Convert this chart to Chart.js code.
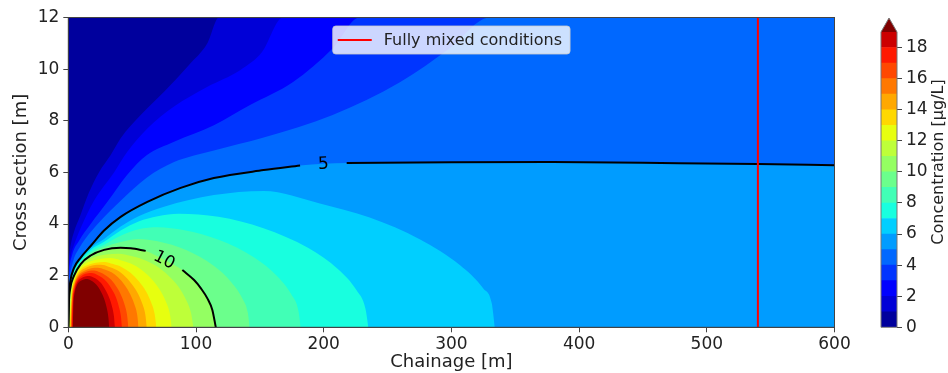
<!DOCTYPE html>
<html>
<head>
<meta charset="utf-8">
<script src="https://cdn.jsdelivr.net/npm/chart.js@4.4.0/dist/chart.umd.min.js"></script>
<style>
  html, body { margin: 0; padding: 0; background: #fff; }
  #wrap { position: relative; width: 948px; height: 373px; }
  #main { position: absolute; left: 0; top: 0; }
  #cbar { position: absolute; left: 870px; top: 0; }
</style>
</head>
<body>
<div id="wrap">
  <canvas id="main" width="860" height="373"></canvas>
  <canvas id="cbar" width="78" height="373"></canvas>
</div>
<script>
// axis limits and tick labels
const xLimits = [0, 600];
const yLimits = [0, 12];
const xTickValues = [0, 100, 200, 300, 400, 500, 600];
const yTickValues = [0, 2, 4, 6, 8, 10, 12];
const cbTickValues = [0, 2, 4, 6, 8, 10, 12, 14, 16, 18];
const levels = [0, 1, 2, 3, 4, 5, 6, 7, 8, 9, 10, 11, 12, 13, 14, 15, 16, 17, 18, 19];

// contour boundaries [chainage, cross section], region >= level lies below the curve
const level1 = [[0,0],[0.05,2.0],[0.4,2.7],[1.9,3.2],[4.5,3.7],[9.2,4.3],[16,5.2],[24,6.0],[33.2,6.67],[41,7.32],[56.7,8.22],[75,9.12],[94.5,10.16],[108.9,11.0],[118,12],[600,12]];
const level2 = [[0,0],[0.1,1.6],[0.5,2.3],[2,2.8],[4.5,3.2],[9.7,3.85],[20.1,4.9],[35.8,6.0],[46.2,6.8],[61.9,7.7],[82.8,8.55],[108.6,9.31],[134.5,9.96],[151.7,10.66],[168,12],[600,12]];
const level3 = [[0,0],[0.2,1.5],[0.8,2.2],[3,2.8],[8.4,3.35],[17.5,4.0],[30.5,4.85],[46,5.9],[61.6,6.67],[82.8,7.19],[114,7.83],[142.3,8.61],[176,9.5],[207.3,10.82],[228,12],[600,12]];
const level4 = [[0,0],[0.3,1.4],[1.2,2.0],[4,2.6],[9,3.1],[16,3.6],[24.8,4.1],[41,4.9],[61.6,5.8],[82.8,6.4],[114,6.85],[153,7.35],[207,8.22],[260,9.5],[299,10.82],[330,12],[600,12]];
const level5 = [[0,0],[0.5,1.2],[1.5,1.75],[4.5,2.3],[9.7,2.7],[17.5,3.15],[28,3.75],[41,4.28],[61.9,4.86],[88,5.4],[114,5.78],[153,6.09],[181.5,6.27],[218,6.36],[300,6.39],[379,6.4],[450,6.37],[540,6.33],[600,6.28]];
const level6 = [[0,0],[0.5,1.16],[1.5,1.7],[4.5,2.24],[9.7,2.65],[17.5,3.08],[28,3.42],[41,3.9],[55,4.3],[75,4.67],[114,5.12],[153,5.28],[197,4.8],[236,4.25],[275.5,3.4],[306.8,2.4],[325,1.5],[331.6,0.93],[334,0]];
const level7 = [[0,0],[0.5,1.12],[1.5,1.65],[4.5,2.18],[9.7,2.6],[17.5,3.0],[28,3.31],[41,3.75],[55,4.1],[70,4.3],[86.5,4.4],[117.5,4.28],[152.8,3.84],[188,3.07],[211.5,2.24],[225.6,1.44],[232.7,0.72],[235,0]];
const level8 = [[0,0],[0.5,1.08],[1.5,1.6],[4.5,2.12],[9.7,2.55],[17.5,2.93],[28,3.2],[41,3.55],[55,3.8],[70,3.88],[91,3.76],[118.3,3.38],[145.6,2.7],[163.8,1.97],[174.7,1.27],[180.2,0.64],[182,0]];
const level9 = [[0,0],[0.5,1.04],[1.5,1.55],[4.5,2.06],[9.7,2.5],[17.5,2.85],[28,3.1],[41,3.3],[55,3.42],[70,3.33],[92.3,2.99],[113.6,2.39],[127.8,1.74],[136.3,1.12],[140.6,0.56],[142,0]];
const level10 = [[0,0],[0.5,1.0],[1.5,1.5],[4.5,2.0],[9.7,2.45],[17.5,2.78],[28,3.0],[41,3.08],[48.9,3.06],[60.6,2.96],[75,2.62],[89.3,2.22],[98.5,1.83],[104,1.5],[108.9,1.12],[112.8,0.67],[115.5,0]];
const level11 = [[0.4,0],[2.35,1.40],[6.26,2.11],[12.1,2.51],[19.9,2.71],[29.7,2.82],[39.4,2.85],[49.2,2.76],[59.0,2.62],[68.7,2.38],[78.5,2.0],[86.3,1.57],[92.1,1.08],[96.0,0.58],[98,0]];
const level12 = [[0.8,0],[2.4,1.31],[5.6,1.98],[10.4,2.36],[16.8,2.55],[24.9,2.65],[32.9,2.68],[40.9,2.60],[48.9,2.47],[57.0,2.24],[65.0,1.88],[71.4,1.47],[76.2,1.02],[79.4,0.55],[81,0]];
const level13 = [[1.2,0],[2.56,1.24],[5.27,1.87],[9.34,2.23],[14.8,2.40],[21.5,2.50],[28.3,2.53],[35.1,2.45],[41.9,2.33],[48.7,2.11],[55.4,1.77],[60.9,1.39],[64.9,0.96],[67.6,0.52],[69,0]];
const level14 = [[1.55,0],[2.75,1.19],[5.15,1.79],[8.74,2.13],[13.5,2.30],[19.5,2.40],[25.5,2.42],[31.5,2.35],[37.5,2.23],[43.5,2.02],[49.5,1.69],[54.3,1.33],[57.9,0.92],[60.3,0.50],[61.5,0]];
const level15 = [[1.95,0],[3.0,1.13],[5.13,1.71],[8.3,2.03],[12.6,2.19],[17.9,2.29],[23.2,2.31],[28.5,2.24],[33.8,2.13],[39.1,1.93],[44.4,1.62],[48.6,1.27],[51.8,0.88],[54.0,0.47],[55,0]];
const level16 = [[2.35,0],[3.24,1.08],[5.03,1.63],[7.7,1.94],[11.3,2.09],[15.7,2.18],[20.2,2.2],[24.7,2.13],[29.1,2.02],[33.6,1.84],[38.1,1.54],[41.6,1.21],[44.3,0.84],[46.1,0.45],[47,0]];
const level17 = [[2.7,0],[3.49,1.03],[5.06,1.55],[7.42,1.85],[10.6,2.0],[14.5,2.08],[18.4,2.1],[22.4,2.04],[26.3,1.93],[30.2,1.75],[34.1,1.47],[37.3,1.16],[39.6,0.80],[41.2,0.43],[42,0]];
const level18 = [[3.1,0],[3.77,0.98],[5.1,1.47],[7.1,1.75],[9.8,1.89],[13.1,1.97],[16.5,1.99],[19.8,1.93],[23.1,1.83],[26.5,1.66],[29.8,1.39],[32.5,1.09],[34.5,0.76],[35.8,0.41],[36.5,0]];
const level19 = [[3.5,0],[4.07,0.92],[5.21,1.38],[6.92,1.65],[9.2,1.78],[12.1,1.85],[14.9,1.87],[17.75,1.81],[20.6,1.72],[23.45,1.56],[26.3,1.31],[28.6,1.03],[30.3,0.71],[31.4,0.38],[32,0]];

// labelled contour lines (gap = chainage range left open for the label)
const contourLabels = [
  { level: 5, text: '5', gap: [181.5, 218] },
  { level: 10, text: '10', gap: [60.6, 89.3] }
];
const fullyMixedX = 540;
const fullyMixedLabel = 'Fully mixed conditions';

const curves = { 1: level1, 2: level2, 3: level3, 4: level4, 5: level5, 6: level6, 7: level7,
  8: level8, 9: level9, 10: level10, 11: level11, 12: level12, 13: level13, 14: level14,
  15: level15, 16: level16, 17: level17, 18: level18, 19: level19 };

const FONT = "'DejaVu Sans', sans-serif";
const TEXT = '#222';
const AXIS = '#444';

// matplotlib 'jet'
function seg(pts, t) {
  for (let i = 1; i < pts.length; i++) {
    if (t <= pts[i][0]) {
      const [x0, y0] = pts[i - 1], [x1, y1] = pts[i];
      return y0 + (y1 - y0) * (t - x0) / (x1 - x0);
    }
  }
  return pts[pts.length - 1][1];
}
function jet(t) {
  const r = seg([[0,0],[0.35,0],[0.66,1],[0.89,1],[1,0.5]], t);
  const g = seg([[0,0],[0.125,0],[0.375,1],[0.64,1],[0.91,0],[1,0]], t);
  const b = seg([[0,0.5],[0.11,1],[0.34,1],[0.65,0],[1,0]], t);
  return `rgb(${Math.round(r * 255)},${Math.round(g * 255)},${Math.round(b * 255)})`;
}
const nBands = levels.length - 1;
function bandColor(i) {
  return i >= nBands ? jet(1) : jet((i + 0.5) / (nBands + 0.8));
}

const toXY = pts => pts.map(p => ({ x: p[0], y: p[1] }));

function withGap(pts, gap) {
  const out = [];
  let added = false;
  pts.forEach(p => {
    if (p[0] > gap[0] && p[0] < gap[1]) return;
    if (!added && p[0] >= gap[1]) { out.push({ x: (gap[0] + gap[1]) / 2, y: null }); added = true; }
    out.push({ x: p[0], y: p[1] });
  });
  return out;
}

// ---------- main contour chart ----------
const datasets = [];
datasets.push({
  label: 'band0', data: toXY([[xLimits[0], yLimits[1]], [xLimits[1], yLimits[1]]]),
  fill: 'origin', backgroundColor: bandColor(0), borderWidth: 0, pointRadius: 0, order: 200
});
for (let k = 1; k < levels.length; k++) {
  datasets.push({
    label: 'band' + k, data: toXY(curves[levels[k]]),
    fill: 'origin', backgroundColor: bandColor(k), borderWidth: 0, pointRadius: 0,
    cubicInterpolationMode: 'monotone', order: 200 - k
  });
}
contourLabels.forEach(c => {
  datasets.push({
    label: 'contour' + c.level, data: withGap(curves[c.level], c.gap),
    fill: false, borderColor: '#000', borderWidth: 2, pointRadius: 0, spanGaps: false,
    cubicInterpolationMode: 'monotone', order: 10
  });
});
datasets.push({
  label: fullyMixedLabel, data: toXY([[fullyMixedX, yLimits[0]], [fullyMixedX, yLimits[1]]]),
  fill: false, borderColor: '#ff0000', borderWidth: 2, pointRadius: 0, order: 5, isLegend: true
});

const mainDecor = {
  id: 'mainDecor',
  afterDatasetsDraw(chart) {
    const { ctx, chartArea: a } = chart;
    const xs = chart.scales.x, ys = chart.scales.y;
    ctx.save();
    // contour labels
    ctx.font = `17px ${FONT}`;
    ctx.fillStyle = '#000';
    ctx.textAlign = 'center';
    ctx.textBaseline = 'middle';
    contourLabels.forEach(c => {
      const pts = curves[c.level];
      const p0 = pts.filter(p => p[0] <= c.gap[0]).pop();
      const p1 = pts.find(p => p[0] >= c.gap[1]);
      const ax = xs.getPixelForValue(p0[0]), ay = ys.getPixelForValue(p0[1]);
      const bx = xs.getPixelForValue(p1[0]), by = ys.getPixelForValue(p1[1]);
      ctx.save();
      ctx.translate((ax + bx) / 2, (ay + by) / 2);
      ctx.rotate(Math.atan2(by - ay, bx - ax));
      ctx.fillText(c.text, 0, 0);
      ctx.restore();
    });
    // frame
    ctx.strokeStyle = AXIS;
    ctx.lineWidth = 1;
    ctx.strokeRect(a.left, a.top, a.right - a.left, a.bottom - a.top);
    ctx.restore();
  },
  afterDraw(chart) {
    const { ctx, chartArea: a } = chart;
    const ds = chart.data.datasets.find(d => d.isLegend);
    ctx.save();
    ctx.font = `16px ${FONT}`;
    const tw = ctx.measureText(ds.label).width;
    const w = 51 + tw + 8, h = 28;
    const left = (a.left + a.right) / 2 - w / 2, top = a.top + 8.5;
    ctx.beginPath();
    ctx.roundRect(left, top, w, h, 3);
    ctx.fillStyle = 'rgba(255,255,255,0.8)';
    ctx.fill();
    ctx.strokeStyle = 'rgba(204,204,204,0.8)';
    ctx.lineWidth = 1;
    ctx.stroke();
    ctx.beginPath();
    ctx.moveTo(left + 5, top + h / 2);
    ctx.lineTo(left + 39, top + h / 2);
    ctx.strokeStyle = ds.borderColor;
    ctx.lineWidth = 2;
    ctx.stroke();
    ctx.fillStyle = TEXT;
    ctx.textBaseline = 'middle';
    ctx.fillText(ds.label, left + 51, top + h / 2 + 1);
    ctx.restore();
  }
};

new Chart(document.getElementById('main'), {
  type: 'line',
  data: { datasets },
  options: {
    responsive: false,
    animation: false,
    events: [],
    layout: { padding: { left: 0, right: 25.5, top: 17.5, bottom: 0 } },
    plugins: { legend: { display: false }, tooltip: { enabled: false } },
    scales: {
      x: {
        type: 'linear', min: xLimits[0], max: xLimits[1],
        afterBuildTicks: s => { s.ticks = xTickValues.map(v => ({ value: v })); },
        afterFit: s => { s.height = 45.7; },
        grid: { display: true, drawOnChartArea: false, drawTicks: true, tickLength: 5, color: AXIS },
        border: { display: true, color: AXIS },
        ticks: { font: { family: FONT, size: 17 }, color: TEXT, padding: 2, maxRotation: 0 },
        title: { display: true, text: 'Chainage [m]', font: { family: FONT, size: 18 }, color: TEXT, padding: { top: 0, bottom: 0 } }
      },
      y: {
        type: 'linear', min: yLimits[0], max: yLimits[1],
        afterBuildTicks: s => { s.ticks = yTickValues.map(v => ({ value: v })); },
        afterFit: s => { s.width = 68.3; },
        grid: { display: true, drawOnChartArea: false, drawTicks: true, tickLength: 5, color: AXIS },
        border: { display: true, color: AXIS },
        ticks: { font: { family: FONT, size: 17 }, color: TEXT, padding: 4 },
        title: { display: true, text: 'Cross section [m]', font: { family: FONT, size: 18 }, color: TEXT, padding: { top: 11, bottom: 0 } }
      }
    }
  },
  plugins: [mainDecor]
});

// ---------- colour bar ----------
const cbDatasets = [];
for (let i = 0; i < nBands; i++) {
  cbDatasets.push({
    label: 'c' + i, data: [[levels[i], levels[i + 1]]],
    backgroundColor: bandColor(i), borderWidth: 0,
    barPercentage: 1, categoryPercentage: 1, grouped: false
  });
}

const cbDecor = {
  id: 'cbDecor',
  afterDatasetsDraw(chart) {
    const { ctx, chartArea: a } = chart;
    const tip = a.top - 14;
    ctx.save();
    ctx.beginPath();
    ctx.moveTo(a.left, a.top);
    ctx.lineTo((a.left + a.right) / 2, tip);
    ctx.lineTo(a.right, a.top);
    ctx.closePath();
    ctx.fillStyle = bandColor(nBands);
    ctx.fill();
    ctx.beginPath();
    ctx.moveTo(a.left, a.bottom);
    ctx.lineTo(a.left, a.top);
    ctx.lineTo((a.left + a.right) / 2, tip);
    ctx.lineTo(a.right, a.top);
    ctx.lineTo(a.right, a.bottom);
    ctx.closePath();
    ctx.strokeStyle = '#777';
    ctx.lineWidth = 1;
    ctx.stroke();
    // colour bar title, reads bottom to top
    ctx.translate(69, 162);
    ctx.rotate(-Math.PI / 2);
    ctx.font = `16px ${FONT}`;
    ctx.fillStyle = TEXT;
    ctx.textAlign = 'center';
    ctx.textBaseline = 'middle';
    ctx.fillText('Concentration [µg/L]', 0, 0);
    ctx.restore();
  }
};

new Chart(document.getElementById('cbar'), {
  type: 'bar',
  data: { labels: [''], datasets: cbDatasets },
  options: {
    responsive: false,
    animation: false,
    events: [],
    layout: { padding: { left: 11, right: 0, top: 32, bottom: 45.7 } },
    plugins: { legend: { display: false }, tooltip: { enabled: false } },
    scales: {
      x: { display: false },
      y: {
        position: 'right', min: levels[0], max: levels[levels.length - 1],
        afterBuildTicks: s => { s.ticks = cbTickValues.map(v => ({ value: v })); },
        afterFit: s => { s.width = 51; },
        grid: { display: true, drawOnChartArea: false, drawTicks: true, tickLength: 5, color: AXIS },
        border: { display: false },
        ticks: { font: { family: FONT, size: 17 }, color: TEXT, padding: 4 }
      }
    }
  },
  plugins: [cbDecor]
});
</script>
</body>
</html>
